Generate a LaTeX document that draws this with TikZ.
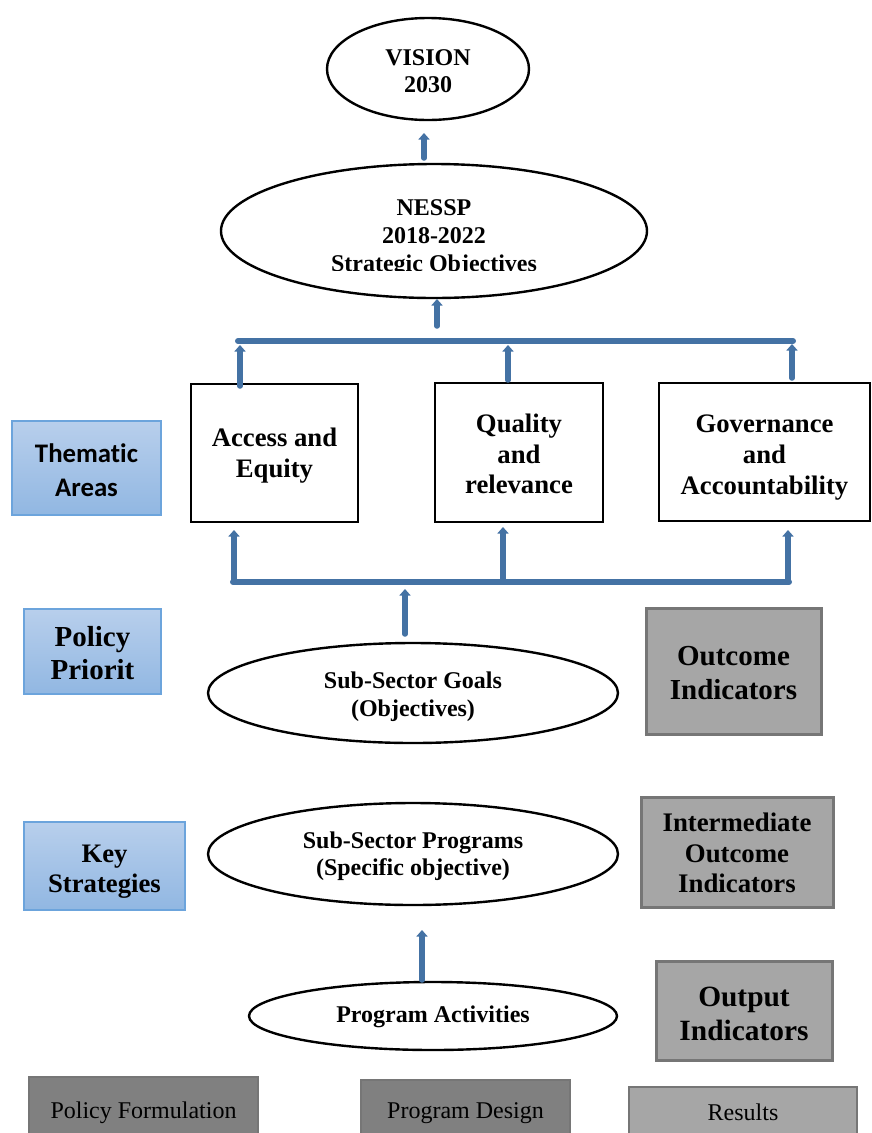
\documentclass[tikz,border=0pt]{standalone}
\usepackage{fontspec}
\setmainfont{Liberation Serif}
\newfontfamily\calibrifont[Ligatures=NoCommon]{Carlito}
\usetikzlibrary{shapes.geometric,arrows.meta}

\definecolor{flowblue}{RGB}{68,114,164}
\definecolor{areatop}{RGB}{184,207,236}
\definecolor{areabot}{RGB}{145,183,226}
\definecolor{areaedge}{RGB}{108,164,220}
\definecolor{lightgrey}{RGB}{166,166,166}
\definecolor{darkgrey}{RGB}{128,128,128}
\definecolor{greyedge}{RGB}{118,118,118}

\begin{document}
\begin{tikzpicture}[x=1pt,y=-1pt,
  oval/.style={ellipse, draw=black, line width=2.4pt, inner sep=0pt, align=center},
  whitebox/.style={rectangle, draw=black, line width=2.2pt, fill=white, inner sep=0pt},
  areabox/.style={rectangle, draw=areaedge, line width=1.4pt, top color=areatop, bottom color=areabot,
    inner sep=0pt},
  indbox/.style={rectangle, draw=greyedge, line width=3pt, fill=lightgrey, inner sep=0pt},
  stagebox/.style={rectangle, draw=greyedge, line width=1.5pt, inner sep=0pt},
  boxtext/.style={align=center, inner sep=0pt},
  flow/.style={draw=flowblue, line width=5.5pt, line cap=round, -{Triangle[length=6.5pt,width=11pt]}},
  bus/.style={draw=flowblue, line width=6pt, line cap=round}]

\useasboundingbox (0,0) rectangle (872,1133);

% ---- top: vision and plan objectives ----
\node[oval, minimum width=202pt, minimum height=102pt,
  label={[boxtext, yshift=-2pt, font=\bfseries\fontsize{24}{27}\selectfont]center:{VISION\\2030}}]
  (vision) at (428,69) {};

\node[oval, minimum width=426pt, minimum height=134pt] (nessp) at (434,231) {};
\begin{scope}
  \clip (220,170) rectangle (650,270.5);
  \node[boxtext, font=\bfseries\fontsize{24}{28}\selectfont] (nessptext) at (434,238)
    {NESSP\\2018-2022\\Strategic Objectives};
\end{scope}

% ---- thematic areas ----
\node[whitebox, minimum width=167pt, minimum height=138pt,
  label={[boxtext, yshift=-3pt, font=\bfseries\fontsize{26.7}{31}\selectfont]center:{Access and\\Equity}}]
  (access) at (274.5,453) {};
\node[whitebox, minimum width=168pt, minimum height=139pt,
  label={[boxtext, yshift=-1.5pt, font=\bfseries\fontsize{26.7}{30.5}\selectfont]center:{Quality\\and\\relevance}}]
  (quality) at (519,452.5) {};
\node[whitebox, minimum width=211pt, minimum height=138pt,
  label={[boxtext, yshift=-6pt, font=\bfseries\fontsize{26.7}{31}\selectfont]center:{Governance\\and\\Accountability}}]
  (gov) at (764.5,452) {};

% ---- left labels ----
\node[areabox, minimum width=149pt, minimum height=94pt,
  label={[boxtext, yshift=-2pt, font=\calibrifont\bfseries\fontsize{26.8}{34}\selectfont]center:{Thematic\\Areas}}]
  (thematic) at (86.5,468) {};
\node[areabox, minimum width=137pt, minimum height=85pt,
  label={[boxtext, yshift=-1.5pt, font=\bfseries\fontsize{29}{33}\selectfont]center:{Policy\\Priorit}}]
  (priority) at (92.5,651.5) {};
\node[areabox, minimum width=161pt, minimum height=88pt,
  label={[boxtext, yshift=-6pt, font=\bfseries\fontsize{26.7}{30}\selectfont]center:{Key\\Strategies}}]
  (keystrat) at (104.5,866) {};

% ---- sub-sector levels ----
\node[oval, minimum width=410pt, minimum height=100pt,
  label={[boxtext, yshift=-4pt, font=\bfseries\fontsize{24}{28}\selectfont]center:{Sub-Sector Goals\\(Objectives)}}]
  (goals) at (413,693) {};
\node[oval, minimum width=410pt, minimum height=102pt,
  label={[boxtext, yshift=-2pt, font=\bfseries\fontsize{24}{27}\selectfont]center:{Sub-Sector Programs\\(Specific objective)}}]
  (programs) at (413,854) {};
\node[oval, minimum width=368pt, minimum height=68pt,
  label={[boxtext, yshift=-1pt, font=\bfseries\fontsize{24}{27}\selectfont]center:{Program Activities}}]
  (activities) at (433,1016) {};

% ---- indicators ----
\node[indbox, minimum width=175pt, minimum height=126pt,
  label={[boxtext, yshift=-2pt, font=\bfseries\fontsize{29}{34}\selectfont]center:{Outcome\\Indicators}}]
  (outcome) at (733.5,671) {};
\node[indbox, minimum width=192pt, minimum height=110pt,
  label={[boxtext, yshift=-1pt, font=\bfseries\fontsize{26.8}{30.5}\selectfont]center:{Intermediate\\Outcome\\Indicators}}]
  (intermediate) at (737,852) {};
\node[indbox, minimum width=176pt, minimum height=99pt,
  label={[boxtext, yshift=-3pt, font=\bfseries\fontsize{29.4}{34}\selectfont]center:{Output\\Indicators}}]
  (output) at (744,1010.5) {};

% ---- bottom stages ----
\node[stagebox, fill=darkgrey, minimum width=229pt, minimum height=66pt,
  label={[boxtext, yshift=-3pt, font=\fontsize{24}{28}\selectfont]center:{Policy Formulation}}]
  (formulation) at (143.5,1110) {};
\node[stagebox, fill=darkgrey, minimum width=209pt, minimum height=60pt,
  label={[boxtext, yshift=-3pt, font=\fontsize{24}{28}\selectfont]center:{Program Design}}]
  (design) at (465.5,1110) {};
\node[stagebox, line width=2.5pt, fill=lightgrey, minimum width=228pt, minimum height=50pt,
  label={[boxtext, font=\fontsize{24}{28}\selectfont]center:{Results}}]
  (results) at (743,1112) {};

% ---- connector points ----
\coordinate (visionIn) at (424,133);
\coordinate (nesspOut) at (424,158);
\coordinate (nesspIn) at (437,299);
\coordinate (topBusMid) at (437,326);
\coordinate (topBusL) at (238,341);
\coordinate (topBusR) at (793,341);
\coordinate (accessOut) at (240,386);
\coordinate (accessTip) at (240,345);
\coordinate (qualityOut) at (508,380);
\coordinate (qualityTip) at (508,345);
\coordinate (govOut) at (792,378);
\coordinate (govTip) at (792,344);

\coordinate (lowBusL) at (233,582);
\coordinate (lowBusR) at (789,582);
\coordinate (accessIn) at (234,530);
\coordinate (accessFoot) at (234,580);
\coordinate (qualityIn) at (503,527);
\coordinate (qualityFoot) at (503,579);
\coordinate (govIn) at (788,530);
\coordinate (govFoot) at (788,580);
\coordinate (goalsOut) at (405,634);
\coordinate (lowBusTip) at (405,589);

\coordinate (programsIn) at (422,930);
\coordinate (activitiesOut) at (422,980);

% ---- connectors ----
\draw[flow] (nesspOut) -- (visionIn);
\draw[flow] (topBusMid) -- (nesspIn);
\draw[bus] (topBusL) -- (topBusR);
\draw[flow] (accessOut) -- (accessTip);
\draw[flow] (qualityOut) -- (qualityTip);
\draw[flow] (govOut) -- (govTip);

\draw[bus] (lowBusL) -- (lowBusR);
\draw[flow] (accessFoot) -- (accessIn);
\draw[flow] (qualityFoot) -- (qualityIn);
\draw[flow] (govFoot) -- (govIn);
\draw[flow] (goalsOut) -- (lowBusTip);

\draw[flow] (activitiesOut) -- (programsIn);
\end{tikzpicture}
\end{document}
